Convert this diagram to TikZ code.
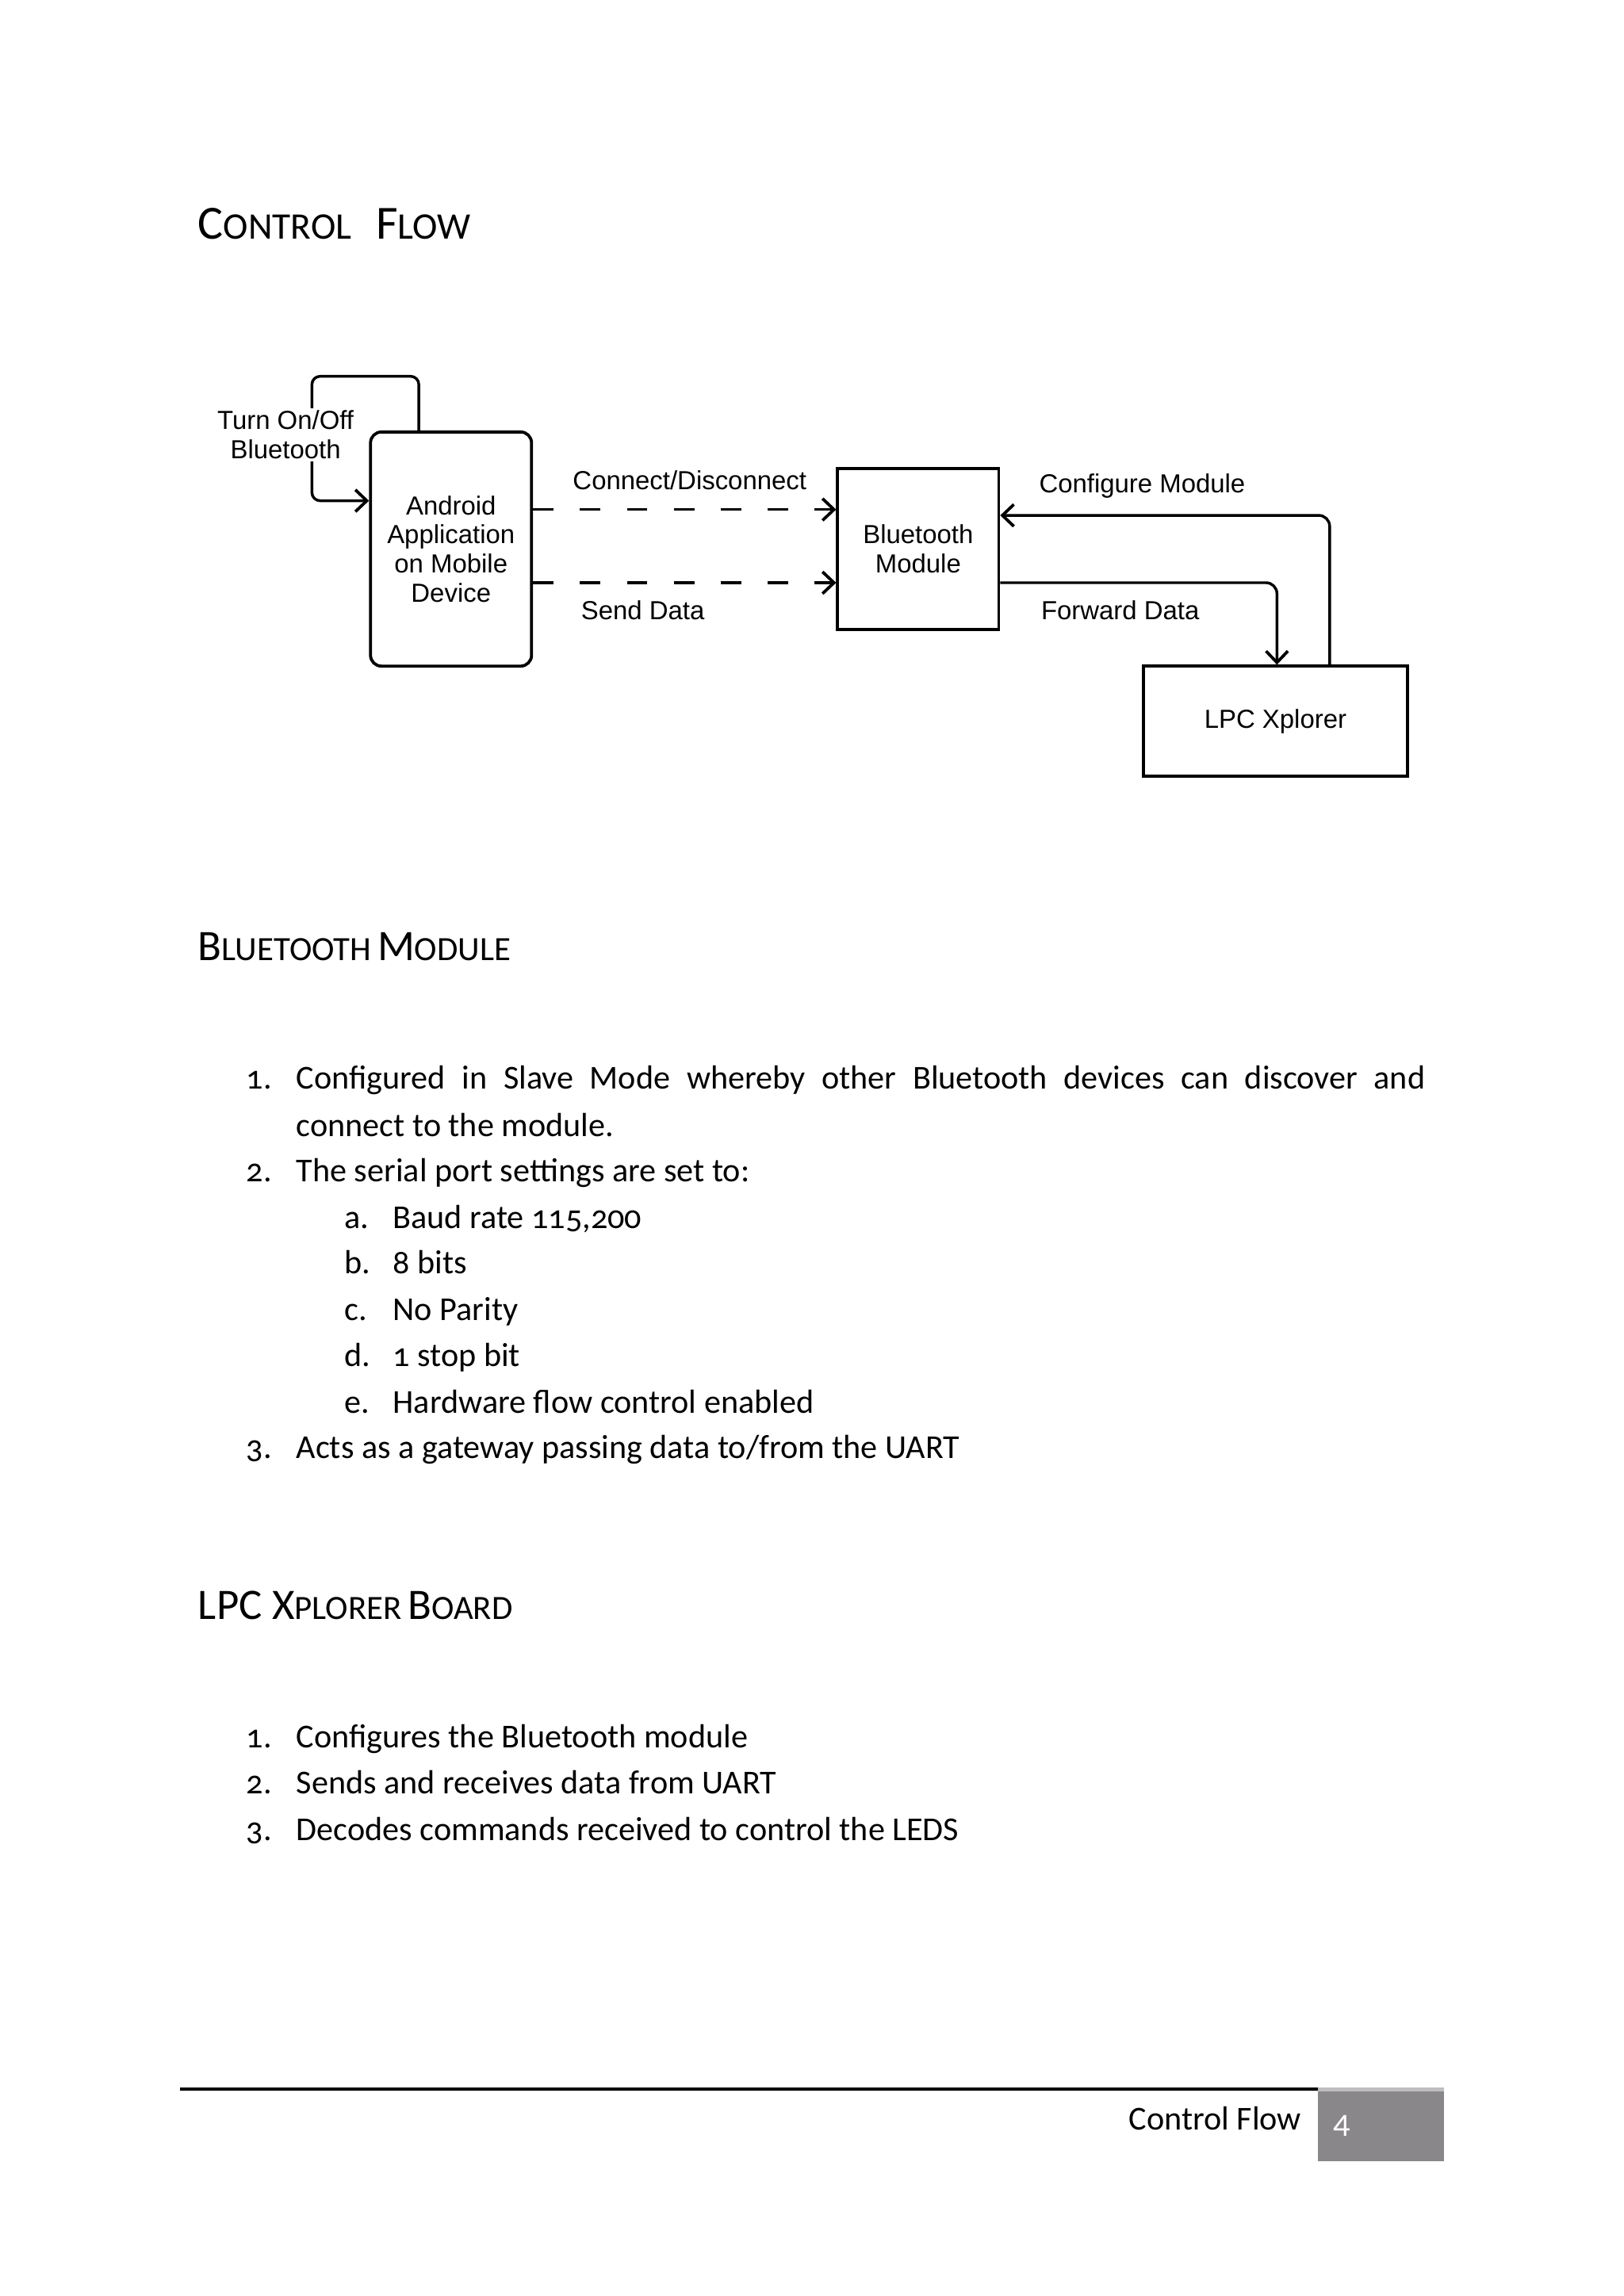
\documentclass[tikz,border=0pt]{standalone}
\usepackage{fontspec}
\setmainfont{Carlito}[Numbers=OldStyle]
\newfontfamily\diagfont{Liberation Sans}
\usetikzlibrary{arrows.meta,positioning}

\definecolor{pagegray}{RGB}{137,135,138}
\newcommand{\capsc}[2]{{\fontsize{16}{16}\selectfont #1}{\fontsize{12.5}{12.5}\selectfont #2}}
\newcommand{\bigcapsc}[2]{{\fontsize{17.5}{17.5}\selectfont #1}{\fontsize{13.8}{13.8}\selectfont #2}}

\tikzset{
  box/.style={draw, line width=1.1bp, minimum width=59bp, align=center, font=\diagfont\fontsize{9.6}{10.7}\selectfont},
  lbl/.style={align=center, font=\diagfont\fontsize{9.6}{10.7}\selectfont},
  arr/.style={line width=1bp, -{Straight Barb[length=4.2bp,width=8bp,line width=1.1bp]}},
  dasharr/.style={arr, dash pattern=on 7.5bp off 9.7bp},
  head/.style={anchor=base west, inner sep=0pt},
  body/.style={anchor=base west, inner sep=0pt, font=\fontsize{12.3}{14}\selectfont}
}

\begin{document}
\begin{tikzpicture}[x=0.5365bp,y=-0.5365bp]
\useasboundingbox (0,0) rectangle (1109,1568.2);
\fill[white] (0,0) rectangle (1109,1568.2);

% headings
\node[head] (cfhead) at (135,163) {\bigcapsc{C}{ONTROL}\hspace{9bp}\bigcapsc{F}{LOW}};
\node[head] (bthead) at (135,656) {\capsc{B}{LUETOOTH} \capsc{M}{ODULE}};
\node[head] (lpchead) at (135,1106) {\capsc{LPC X}{PLORER} \capsc{B}{OARD}};

% diagram
\node[box, rounded corners=4bp, minimum height=85.8bp] (android) at (308,375) {Android\\Application\\on Mobile\\Device};
\node[box, minimum height=59bp] (btmod) at (627,375) {Bluetooth\\Module};
\node[box, minimum width=96.6bp, minimum height=40.2bp] (lpc) at (871,492.5) {LPC Xplorer};

\coordinate (loopr) at (286,257);
\coordinate (loopl) at (213,257);
\draw[arr, rounded corners=3bp] (loopr |- android.north) -- (loopr) -- (loopl) -- (loopl |- 0,342) -- (android.west |- 0,342);
\node[lbl, fill=white, inner sep=1bp] (turnlbl) at (195,297) {Turn On/Off\\Bluetooth};

\draw[dasharr] (android.east |- 0,348) -- (btmod.west |- 0,348);
\draw[dasharr] (android.east |- 0,398) -- (btmod.west |- 0,398);
\node[lbl] (conlbl) at (471,328) {Connect/Disconnect};
\node[lbl] (sendlbl) at (439,417) {Send Data};

\draw[arr, rounded corners=4bp] (908,0 |- lpc.north) -- (908,352) -- (btmod.east |- 0,352);
\draw[arr, rounded corners=4bp] (btmod.east |- 0,398) -- (872,398) -- (872,0 |- lpc.north);
\node[lbl] (cfglbl) at (780,332) {Configure Module};
\node[lbl] (fwdlbl) at (765,417) {Forward Data};

% bluetooth module list
\node[body] (n1) at (168,744) {1.};
\node[body] (i1) at (202,744) {\makebox[413.6bp][s]{Configured in Slave Mode whereby other Bluetooth devices can discover and}};
\node[body] (i1b) at (202,776) {connect to the module.};
\node[body] (n2) at (168,807) {2.};
\node[body] (i2) at (202,807) {The serial port settings are set to:};
\node[body] (na) at (235,839) {a.};
\node[body] (ia) at (268,839) {Baud rate 115,200};
\node[body] (nb) at (235,870) {b.};
\node[body] (ib) at (268,870) {8 bits};
\node[body] (nc) at (235,902) {c.};
\node[body] (ic) at (268,902) {No Parity};
\node[body] (nd) at (235,933) {d.};
\node[body] (id) at (268,933) {1 stop bit};
\node[body] (ne) at (235,965) {e.};
\node[body] (ie) at (268,965) {Hardware flow control enabled};
\node[body] (n3) at (168,996) {3.};
\node[body] (i3) at (202,996) {Acts as a gateway passing data to/from the UART};

% lpc xplorer list
\node[body] (m1) at (168,1194) {1.};
\node[body] (j1) at (202,1194) {Configures the Bluetooth module};
\node[body] (m2) at (168,1225) {2.};
\node[body] (j2) at (202,1225) {Sends and receives data from UART};
\node[body] (m3) at (168,1257) {3.};
\node[body] (j3) at (202,1257) {Decodes commands received to control the LEDS};

% footer
\draw[line width=1.1bp] (123,1427) -- (900,1427);
\fill[pagegray] (900,1427) rectangle (986,1476);
\fill[pagegray!55] (900,1425.5) rectangle (986,1428.5);
\node[body, anchor=base east] (footlbl) at (889,1455) {Control Flow};
\node[body, text=white] (pagenum) at (910,1457) {4};

\end{tikzpicture}
\end{document}
